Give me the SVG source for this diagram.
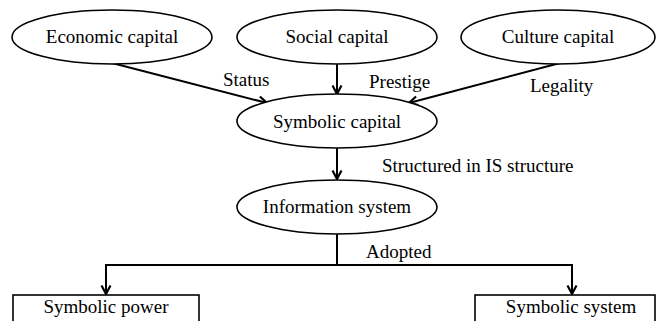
<svg xmlns="http://www.w3.org/2000/svg" width="657" height="321" viewBox="0 0 657 321">
<defs>
<marker id="arr" markerUnits="userSpaceOnUse" markerWidth="12" markerHeight="12" viewBox="0 0 12 12" refX="10" refY="6" orient="auto">
<path d="M1.5,1.5 L10,6 L1.5,10.5" fill="none" stroke="#000" stroke-width="2.2"/>
</marker>
</defs>
<style>
.n{fill:#fff;stroke:#000;stroke-width:1.6}
.t{font-family:"Liberation Serif","Times New Roman",serif;font-size:19px;fill:#000}
.c{fill:none;stroke:#000;stroke-width:2}
</style>
<rect width="657" height="321" fill="#fff"/>
<g id="connectors">
<line class="c" x1="112" y1="63" x2="267" y2="103" marker-end="url(#arr)"/>
<line class="c" x1="337" y1="64" x2="337" y2="94" marker-end="url(#arr)"/>
<line class="c" x1="560" y1="63" x2="409" y2="103" marker-end="url(#arr)"/>
<line class="c" x1="337" y1="148" x2="337" y2="179" marker-end="url(#arr)"/>
<polyline class="c" points="337,234 337,265"/>
<polyline class="c" points="337,265 106,265 106,294" marker-end="url(#arr)"/>
<polyline class="c" points="337,265 572,265 572,294" marker-end="url(#arr)"/>
<text class="t" x="223" y="86">Status</text>
<text class="t" x="369" y="88">Prestige</text>
<text class="t" x="530" y="92">Legality</text>
<text class="t" x="382" y="172">Structured in IS structure</text>
<text class="t" x="366" y="258">Adopted</text>
</g>
<g id="economic">
<ellipse class="n" cx="112" cy="37" rx="100" ry="27"/>
<text class="t" x="112" y="43" text-anchor="middle">Economic capital</text>
</g>
<g id="social">
<ellipse class="n" cx="337" cy="37" rx="100" ry="27"/>
<text class="t" x="337" y="43" text-anchor="middle">Social capital</text>
</g>
<g id="culture">
<ellipse class="n" cx="558" cy="37" rx="97" ry="27"/>
<text class="t" x="558" y="43" text-anchor="middle">Culture capital</text>
</g>
<g id="symbolic">
<ellipse class="n" cx="337" cy="121" rx="100" ry="27"/>
<text class="t" x="337" y="128" text-anchor="middle">Symbolic capital</text>
</g>
<g id="information">
<ellipse class="n" cx="337" cy="207" rx="100" ry="27"/>
<text class="t" x="337" y="213" text-anchor="middle">Information system</text>
</g>
<g id="power">
<rect class="n" x="13" y="295" width="186" height="30"/>
<text class="t" x="106" y="313" text-anchor="middle">Symbolic power</text>
</g>
<g id="system">
<rect class="n" x="475" y="295" width="180" height="30"/>
<text class="t" x="571" y="313" text-anchor="middle">Symbolic system</text>
</g>
</svg>
